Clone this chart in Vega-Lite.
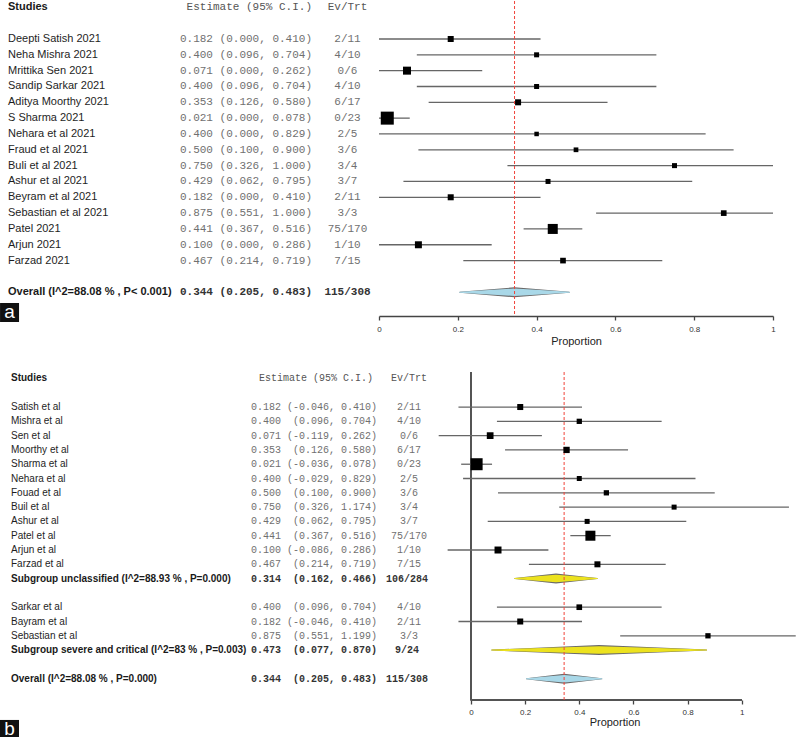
{
  "$schema": "https://vega.github.io/schema/vega-lite/v6.json",
  "padding": 0,
  "background": "white",
  "config": {"view": {"stroke": null}, "font": "Liberation Sans"},
  "datasets": {
    "a": [
      {"row": -2, "type": "header", "study": "Studies", "ci": "Estimate (95% C.I.)", "ev": "Ev/Trt"},
      {"row": 0, "type": "study", "study": "Deepti Satish 2021", "ci": "0.182 (0.000, 0.410)", "ev": "2/11", "est": 0.182, "lo": 0.0, "hi": 0.410, "weight": 5.2},
      {"row": 1, "type": "study", "study": "Neha Mishra 2021", "ci": "0.400 (0.096, 0.704)", "ev": "4/10", "est": 0.400, "lo": 0.096, "hi": 0.704, "weight": 3.6},
      {"row": 2, "type": "study", "study": "Mrittika Sen 2021", "ci": "0.071 (0.000, 0.262)", "ev": "0/6", "est": 0.071, "lo": 0.0, "hi": 0.262, "weight": 9.2},
      {"row": 3, "type": "study", "study": "Sandip Sarkar 2021", "ci": "0.400 (0.096, 0.704)", "ev": "4/10", "est": 0.400, "lo": 0.096, "hi": 0.704, "weight": 3.6},
      {"row": 4, "type": "study", "study": "Aditya Moorthy 2021", "ci": "0.353 (0.126, 0.580)", "ev": "6/17", "est": 0.353, "lo": 0.126, "hi": 0.580, "weight": 5.2},
      {"row": 5, "type": "study", "study": "S Sharma 2021", "ci": "0.021 (0.000, 0.078)", "ev": "0/23", "est": 0.021, "lo": 0.0, "hi": 0.078, "weight": 24.3},
      {"row": 6, "type": "study", "study": "Nehara et al 2021", "ci": "0.400 (0.000, 0.829)", "ev": "2/5", "est": 0.400, "lo": 0.0, "hi": 0.829, "weight": 2.9},
      {"row": 7, "type": "study", "study": "Fraud et al 2021", "ci": "0.500 (0.100, 0.900)", "ev": "3/6", "est": 0.500, "lo": 0.100, "hi": 0.900, "weight": 3.2},
      {"row": 8, "type": "study", "study": "Buli et al 2021", "ci": "0.750 (0.326, 1.000)", "ev": "3/4", "est": 0.750, "lo": 0.326, "hi": 1.0, "weight": 3.6},
      {"row": 9, "type": "study", "study": "Ashur et al 2021", "ci": "0.429 (0.062, 0.795)", "ev": "3/7", "est": 0.429, "lo": 0.062, "hi": 0.795, "weight": 3.6},
      {"row": 10, "type": "study", "study": "Beyram et al 2021", "ci": "0.182 (0.000, 0.410)", "ev": "2/11", "est": 0.182, "lo": 0.0, "hi": 0.410, "weight": 5.2},
      {"row": 11, "type": "study", "study": "Sebastian et al 2021", "ci": "0.875 (0.551, 1.000)", "ev": "3/3", "est": 0.875, "lo": 0.551, "hi": 1.0, "weight": 4.6},
      {"row": 12, "type": "study", "study": "Patel 2021", "ci": "0.441 (0.367, 0.516)", "ev": "75/170", "est": 0.441, "lo": 0.367, "hi": 0.516, "weight": 14.4},
      {"row": 13, "type": "study", "study": "Arjun 2021", "ci": "0.100 (0.000, 0.286)", "ev": "1/10", "est": 0.100, "lo": 0.0, "hi": 0.286, "weight": 7.0},
      {"row": 14, "type": "study", "study": "Farzad 2021", "ci": "0.467 (0.214, 0.719)", "ev": "7/15", "est": 0.467, "lo": 0.214, "hi": 0.719, "weight": 4.6},
      {"row": 16, "type": "overall", "study": "Overall (I^2=88.08 % , P< 0.001)", "ci": "0.344 (0.205, 0.483)", "ev": "115/308", "est": 0.344, "lo": 0.205, "hi": 0.483}
    ],
    "b": [
      {"row": -2, "type": "header", "study": "Studies", "ci": "Estimate (95% C.I.)", "ev": "Ev/Trt"},
      {"row": 0, "type": "study", "study": "Satish et al", "ci": "0.182 (-0.046, 0.410)", "ev": "2/11", "est": 0.182, "lo": -0.046, "hi": 0.410, "weight": 5.2},
      {"row": 1, "type": "study", "study": "Mishra et al", "ci": "0.400\u00a0\u00a0(0.096, 0.704)", "ev": "4/10", "est": 0.400, "lo": 0.096, "hi": 0.704, "weight": 4.0},
      {"row": 2, "type": "study", "study": "Sen et al", "ci": "0.071 (-0.119, 0.262)", "ev": "0/6", "est": 0.071, "lo": -0.119, "hi": 0.262, "weight": 6.5},
      {"row": 3, "type": "study", "study": "Moorthy et al", "ci": "0.353\u00a0\u00a0(0.126, 0.580)", "ev": "6/17", "est": 0.353, "lo": 0.126, "hi": 0.580, "weight": 5.7},
      {"row": 4, "type": "study", "study": "Sharma et al", "ci": "0.021 (-0.036, 0.078)", "ev": "0/23", "est": 0.021, "lo": -0.036, "hi": 0.078, "weight": 20.7},
      {"row": 5, "type": "study", "study": "Nehara et al", "ci": "0.400 (-0.029, 0.829)", "ev": "2/5", "est": 0.400, "lo": -0.029, "hi": 0.829, "weight": 3.6},
      {"row": 6, "type": "study", "study": "Fouad et al", "ci": "0.500\u00a0\u00a0(0.100, 0.900)", "ev": "3/6", "est": 0.500, "lo": 0.100, "hi": 0.900, "weight": 4.0},
      {"row": 7, "type": "study", "study": "Buil et al", "ci": "0.750\u00a0\u00a0(0.326, 1.174)", "ev": "3/4", "est": 0.750, "lo": 0.326, "hi": 1.174, "weight": 3.6},
      {"row": 8, "type": "study", "study": "Ashur et al", "ci": "0.429\u00a0\u00a0(0.062, 0.795)", "ev": "3/7", "est": 0.429, "lo": 0.062, "hi": 0.795, "weight": 3.6},
      {"row": 9, "type": "study", "study": "Patel et al", "ci": "0.441\u00a0\u00a0(0.367, 0.516)", "ev": "75/170", "est": 0.441, "lo": 0.367, "hi": 0.516, "weight": 14.4},
      {"row": 10, "type": "study", "study": "Arjun et al", "ci": "0.100 (-0.086, 0.286)", "ev": "1/10", "est": 0.100, "lo": -0.086, "hi": 0.286, "weight": 7.0},
      {"row": 11, "type": "study", "study": "Farzad et al", "ci": "0.467\u00a0\u00a0(0.214, 0.719)", "ev": "7/15", "est": 0.467, "lo": 0.214, "hi": 0.719, "weight": 5.2},
      {"row": 12, "type": "subgroup", "study": "Subgroup unclassified (I^2=88.93 % , P=0.000)", "ci": "0.314\u00a0\u00a0(0.162, 0.466)", "ev": "106/284", "est": 0.314, "lo": 0.162, "hi": 0.466},
      {"row": 14, "type": "study", "study": "Sarkar et al", "ci": "0.400\u00a0\u00a0(0.096, 0.704)", "ev": "4/10", "est": 0.400, "lo": 0.096, "hi": 0.704, "weight": 4.6},
      {"row": 15, "type": "study", "study": "Bayram et al", "ci": "0.182 (-0.046, 0.410)", "ev": "2/11", "est": 0.182, "lo": -0.046, "hi": 0.410, "weight": 5.2},
      {"row": 16, "type": "study", "study": "Sebastian et al", "ci": "0.875\u00a0\u00a0(0.551, 1.199)", "ev": "3/3", "est": 0.875, "lo": 0.551, "hi": 1.199, "weight": 4.0},
      {"row": 17, "type": "subgroup", "study": "Subgroup severe and critical (I^2=83 % , P=0.003)", "ci": "0.473\u00a0\u00a0(0.077, 0.870)", "ev": "9/24", "est": 0.473, "lo": 0.077, "hi": 0.870},
      {"row": 19, "type": "overall", "study": "Overall (I^2=88.08 % , P=0.000)", "ci": "0.344\u00a0\u00a0(0.205, 0.483)", "ev": "115/308", "est": 0.344, "lo": 0.205, "hi": 0.483}
    ]
  },
  "spacing": 25,
  "vconcat": [
    {
      "spacing": 0,
      "bounds": "flush",
      "hconcat": [
        {
          "width": 180, "height": 315,
          "data": {"name": "a"},
          "layer": [
            {
              "transform": [{"filter": "datum.type == 'study'"}],
              "mark": {"type": "text", "align": "left", "baseline": "middle", "dx": 8, "fontSize": 11, "font": "Liberation Sans", "color": "#1e1e1e"},
              "encoding": {
                "x": {"datum": 0, "type": "quantitative", "scale": {"domain": [0, 1], "nice": false, "zero": false}, "axis": null},
                "y": {"field": "row", "type": "quantitative", "scale": {"domain": [17.5, -2.4], "nice": false, "zero": false}, "axis": null},
                "text": {"field": "study"}
              }
            },
            {
              "transform": [{"filter": "datum.type != 'study'"}],
              "mark": {"type": "text", "align": "left", "baseline": "middle", "dx": 8, "fontSize": 11, "font": "Liberation Sans", "fontWeight": "bold", "color": "#1a1a1a"},
              "encoding": {
                "x": {"datum": 0, "type": "quantitative"},
                "y": {"field": "row", "type": "quantitative"},
                "text": {"field": "study"}
              }
            },
            {
              "data": {"values": [{"label": "a"}]},
              "mark": {"type": "point", "shape": "square", "filled": true, "color": "#111111", "opacity": 1, "size": 361, "strokeWidth": 0},
              "encoding": {
                "x": {"datum": 0.053, "type": "quantitative"},
                "y": {"datum": 17.28, "type": "quantitative"}
              }
            },
            {
              "data": {"values": [{"label": "a"}]},
              "mark": {"type": "text", "align": "center", "baseline": "alphabetic", "dy": 5.5, "fontSize": 19, "font": "Liberation Sans", "color": "white"},
              "encoding": {
                "x": {"datum": 0.053, "type": "quantitative"},
                "y": {"datum": 17.28, "type": "quantitative"},
                "text": {"field": "label"}
              }
            }
          ]
        },
        {
          "width": 132, "height": 315,
          "data": {"name": "a"},
          "layer": [
            {
              "transform": [{"filter": "datum.type == 'study'"}],
              "mark": {"type": "text", "align": "right", "baseline": "middle", "fontSize": 11, "font": "Liberation Mono", "color": "#707070"},
              "encoding": {
                "x": {"datum": 1, "type": "quantitative", "scale": {"domain": [0, 1], "nice": false, "zero": false}, "axis": null},
                "y": {"field": "row", "type": "quantitative", "scale": {"domain": [17.5, -2.4], "nice": false, "zero": false}, "axis": null},
                "text": {"field": "ci"}
              }
            },
            {
              "transform": [{"filter": "datum.type == 'header'"}],
              "mark": {"type": "text", "align": "right", "baseline": "middle", "fontSize": 11, "font": "Liberation Mono", "color": "#555555"},
              "encoding": {
                "x": {"datum": 1, "type": "quantitative"},
                "y": {"field": "row", "type": "quantitative"},
                "text": {"field": "ci"}
              }
            },
            {
              "transform": [{"filter": "datum.type == 'overall'"}],
              "mark": {"type": "text", "align": "right", "baseline": "middle", "fontSize": 11, "font": "Liberation Mono", "fontWeight": "bold", "color": "#333333"},
              "encoding": {
                "x": {"datum": 1, "type": "quantitative"},
                "y": {"field": "row", "type": "quantitative"},
                "text": {"field": "ci"}
              }
            }
          ]
        },
        {
          "width": 67, "height": 315,
          "data": {"name": "a"},
          "layer": [
            {
              "transform": [{"filter": "datum.type == 'study'"}],
              "mark": {"type": "text", "align": "center", "baseline": "middle", "dx": 2, "fontSize": 11, "font": "Liberation Mono", "color": "#707070"},
              "encoding": {
                "x": {"datum": 0.5, "type": "quantitative", "scale": {"domain": [0, 1], "nice": false, "zero": false}, "axis": null},
                "y": {"field": "row", "type": "quantitative", "scale": {"domain": [17.5, -2.4], "nice": false, "zero": false}, "axis": null},
                "text": {"field": "ev"}
              }
            },
            {
              "transform": [{"filter": "datum.type == 'header'"}],
              "mark": {"type": "text", "align": "center", "baseline": "middle", "dx": 2, "fontSize": 11, "font": "Liberation Mono", "color": "#555555"},
              "encoding": {
                "x": {"datum": 0.5, "type": "quantitative"},
                "y": {"field": "row", "type": "quantitative"},
                "text": {"field": "ev"}
              }
            },
            {
              "transform": [{"filter": "datum.type == 'overall'"}],
              "mark": {"type": "text", "align": "center", "baseline": "middle", "dx": 2, "fontSize": 11, "font": "Liberation Mono", "fontWeight": "bold", "color": "#333333"},
              "encoding": {
                "x": {"datum": 0.5, "type": "quantitative"},
                "y": {"field": "row", "type": "quantitative"},
                "text": {"field": "ev"}
              }
            }
          ]
        },
        {
          "width": 394, "height": 315,
          "data": {"name": "a"},
          "layer": [
            {
              "transform": [{"filter": "datum.type == 'study'"}],
              "mark": {"type": "rule", "color": "#666666", "strokeWidth": 1.3},
              "encoding": {
                "x": {"field": "lo", "type": "quantitative", "scale": {"domain": [0, 1], "nice": false, "zero": false},
                  "axis": {"values": [0, 0.2, 0.4, 0.6, 0.8, 1], "format": "~g", "title": "Proportion", "grid": false, "domainColor": "#444444", "domainWidth": 1.3, "tickColor": "#444444", "tickWidth": 1.3, "tickSize": 4, "labelFontSize": 8, "labelColor": "#333333", "labelPadding": 5, "labelFlush": false, "titleFontSize": 11, "titleFontWeight": "normal", "titleColor": "#222222", "titlePadding": 2}},
                "x2": {"field": "hi"},
                "y": {"field": "row", "type": "quantitative", "scale": {"domain": [17.5, -2.4], "nice": false, "zero": false}, "axis": null}
              }
            },
            {
              "transform": [{"filter": "datum.type != 'study' && datum.type != 'header'"}, {"fold": ["lo", "est", "hi"], "as": ["key", "value"]}],
              "mark": {"type": "trail", "color": "#6a6a6a"},
              "encoding": {
                "x": {"field": "value", "type": "quantitative"},
                "y": {"field": "row", "type": "quantitative"},
                "detail": {"field": "row"},
                "size": {"condition": {"test": "datum.key == 'est'", "value": 10}, "value": 0}
              }
            },
            {
              "transform": [{"filter": "datum.type != 'study' && datum.type != 'header'"}, {"fold": ["lo", "est", "hi"], "as": ["key", "value"]}],
              "mark": {"type": "trail", "color": "#a9d8e8"},
              "encoding": {
                "x": {"field": "value", "type": "quantitative"},
                "y": {"field": "row", "type": "quantitative"},
                "detail": {"field": "row"},
                "size": {"condition": {"test": "datum.key == 'est'", "value": 7.5}, "value": 0}
              }
            },
            {
              "transform": [{"filter": "datum.type == 'overall'"}],
              "mark": {"type": "rule", "color": "#f0443a", "strokeDash": [3, 2], "strokeWidth": 1},
              "encoding": {
                "x": {"field": "est", "type": "quantitative"}
              }
            },
            {
              "transform": [{"filter": "datum.type == 'study'"}],
              "mark": {"type": "point", "shape": "square", "filled": true, "color": "#000000", "opacity": 1, "strokeWidth": 0},
              "encoding": {
                "x": {"field": "est", "type": "quantitative"},
                "y": {"field": "row", "type": "quantitative"},
                "size": {"field": "weight", "type": "quantitative", "scale": {"domain": [0, 25], "range": [0, 174]}, "legend": null}
              }
            }
          ]
        }
      ]
    },
    {
      "spacing": 0,
      "bounds": "flush",
      "hconcat": [
        {
          "width": 250, "height": 328,
          "data": {"name": "b"},
          "layer": [
            {
              "transform": [{"filter": "datum.type == 'study'"}],
              "mark": {"type": "text", "align": "left", "baseline": "middle", "dx": 11, "fontSize": 10, "font": "Liberation Sans", "color": "#1e1e1e"},
              "encoding": {
                "x": {"datum": 0, "type": "quantitative", "scale": {"domain": [0, 1], "nice": false, "zero": false}, "axis": null},
                "y": {"field": "row", "type": "quantitative", "scale": {"domain": [20.49, -2.45], "nice": false, "zero": false}, "axis": null},
                "text": {"field": "study"}
              }
            },
            {
              "transform": [{"filter": "datum.type != 'study'"}],
              "mark": {"type": "text", "align": "left", "baseline": "middle", "dx": 11, "fontSize": 10, "font": "Liberation Sans", "fontWeight": "bold", "color": "#1a1a1a"},
              "encoding": {
                "x": {"datum": 0, "type": "quantitative"},
                "y": {"field": "row", "type": "quantitative"},
                "text": {"field": "study"}
              }
            },
            {
              "data": {"values": [{"label": "b"}]},
              "mark": {"type": "point", "shape": "square", "filled": true, "color": "#111111", "opacity": 1, "size": 361, "strokeWidth": 0},
              "encoding": {
                "x": {"datum": 0.038, "type": "quantitative"},
                "y": {"datum": 22.55, "type": "quantitative"}
              }
            },
            {
              "data": {"values": [{"label": "b"}]},
              "mark": {"type": "text", "align": "center", "baseline": "alphabetic", "dy": 5.5, "fontSize": 19, "font": "Liberation Sans", "color": "white"},
              "encoding": {
                "x": {"datum": 0.038, "type": "quantitative"},
                "y": {"datum": 22.55, "type": "quantitative"},
                "text": {"field": "label"}
              }
            }
          ]
        },
        {
          "width": 127, "height": 328,
          "data": {"name": "b"},
          "layer": [
            {
              "transform": [{"filter": "datum.type == 'study'"}],
              "mark": {"type": "text", "align": "right", "baseline": "middle", "fontSize": 10, "font": "Liberation Mono", "color": "#707070"},
              "encoding": {
                "x": {"datum": 1, "type": "quantitative", "scale": {"domain": [0, 1], "nice": false, "zero": false}, "axis": null},
                "y": {"field": "row", "type": "quantitative", "scale": {"domain": [20.49, -2.45], "nice": false, "zero": false}, "axis": null},
                "text": {"field": "ci"}
              }
            },
            {
              "transform": [{"filter": "datum.type == 'header'"}],
              "mark": {"type": "text", "align": "right", "baseline": "middle", "dx": -4, "fontSize": 10, "font": "Liberation Mono", "color": "#555555"},
              "encoding": {
                "x": {"datum": 1, "type": "quantitative"},
                "y": {"field": "row", "type": "quantitative"},
                "text": {"field": "ci"}
              }
            },
            {
              "transform": [{"filter": "datum.type == 'overall' || datum.type == 'subgroup'"}],
              "mark": {"type": "text", "align": "right", "baseline": "middle", "fontSize": 10, "font": "Liberation Mono", "fontWeight": "bold", "color": "#333333"},
              "encoding": {
                "x": {"datum": 1, "type": "quantitative"},
                "y": {"field": "row", "type": "quantitative"},
                "text": {"field": "ci"}
              }
            }
          ]
        },
        {
          "width": 56, "height": 328,
          "data": {"name": "b"},
          "layer": [
            {
              "transform": [{"filter": "datum.type == 'study'"}],
              "mark": {"type": "text", "align": "center", "baseline": "middle", "dx": 4, "fontSize": 10, "font": "Liberation Mono", "color": "#707070"},
              "encoding": {
                "x": {"datum": 0.5, "type": "quantitative", "scale": {"domain": [0, 1], "nice": false, "zero": false}, "axis": null},
                "y": {"field": "row", "type": "quantitative", "scale": {"domain": [20.49, -2.45], "nice": false, "zero": false}, "axis": null},
                "text": {"field": "ev"}
              }
            },
            {
              "transform": [{"filter": "datum.type == 'header'"}],
              "mark": {"type": "text", "align": "center", "baseline": "middle", "dx": 4, "fontSize": 10, "font": "Liberation Mono", "color": "#555555"},
              "encoding": {
                "x": {"datum": 0.5, "type": "quantitative"},
                "y": {"field": "row", "type": "quantitative"},
                "text": {"field": "ev"}
              }
            },
            {
              "transform": [{"filter": "datum.type == 'overall' || datum.type == 'subgroup'"}],
              "mark": {"type": "text", "align": "center", "baseline": "middle", "dx": 2, "fontSize": 10, "font": "Liberation Mono", "fontWeight": "bold", "color": "#333333"},
              "encoding": {
                "x": {"datum": 0.5, "type": "quantitative"},
                "y": {"field": "row", "type": "quantitative"},
                "text": {"field": "ev"}
              }
            }
          ]
        },
        {
          "width": 363, "height": 328,
          "data": {"name": "b"},
          "layer": [
            {
              "mark": {"type": "rule", "color": "#555555", "strokeWidth": 1.5},
              "encoding": {
                "x": {"datum": 0, "type": "quantitative", "scale": {"domain": [-0.14, 1.2], "nice": false, "zero": false},
                  "axis": {"values": [0, 0.2, 0.4, 0.6, 0.8, 1], "format": "~g", "title": "Proportion", "grid": false, "domain": false, "tickColor": "#444444", "tickWidth": 1.3, "tickSize": 4, "labelFontSize": 8, "labelColor": "#333333", "labelPadding": 4, "labelFlush": false, "titleFontSize": 11, "titleFontWeight": "normal", "titleColor": "#222222", "titlePadding": 0}}
              }
            },
            {
              "mark": {"type": "rule", "color": "#555555", "strokeWidth": 1.5},
              "encoding": {
                "x": {"datum": 0, "type": "quantitative"},
                "x2": {"datum": 1},
                "y": {"datum": 20.49, "type": "quantitative", "scale": {"domain": [20.49, -2.45], "nice": false, "zero": false}, "axis": null}
              }
            },
            {
              "transform": [{"filter": "datum.type == 'study'"}],
              "mark": {"type": "rule", "color": "#666666", "strokeWidth": 1.3},
              "encoding": {
                "x": {"field": "lo", "type": "quantitative"},
                "x2": {"field": "hi"},
                "y": {"field": "row", "type": "quantitative"}
              }
            },
            {
              "transform": [{"filter": "datum.type == 'subgroup' || datum.type == 'overall'"}, {"fold": ["lo", "est", "hi"], "as": ["key", "value"]}],
              "mark": {"type": "trail", "color": "#6a6a6a"},
              "encoding": {
                "x": {"field": "value", "type": "quantitative"},
                "y": {"field": "row", "type": "quantitative"},
                "detail": {"field": "row"},
                "size": {"condition": {"test": "datum.key == 'est'", "value": 10}, "value": 0}
              }
            },
            {
              "transform": [{"filter": "datum.type == 'subgroup'"}, {"fold": ["lo", "est", "hi"], "as": ["key", "value"]}],
              "mark": {"type": "trail", "color": "#ece21e"},
              "encoding": {
                "x": {"field": "value", "type": "quantitative"},
                "y": {"field": "row", "type": "quantitative"},
                "detail": {"field": "row"},
                "size": {"condition": {"test": "datum.key == 'est'", "value": 7.5}, "value": 0}
              }
            },
            {
              "transform": [{"filter": "datum.type == 'overall'"}, {"fold": ["lo", "est", "hi"], "as": ["key", "value"]}],
              "mark": {"type": "trail", "color": "#a9d8e8"},
              "encoding": {
                "x": {"field": "value", "type": "quantitative"},
                "y": {"field": "row", "type": "quantitative"},
                "detail": {"field": "row"},
                "size": {"condition": {"test": "datum.key == 'est'", "value": 7.5}, "value": 0}
              }
            },
            {
              "transform": [{"filter": "datum.type == 'overall'"}],
              "mark": {"type": "rule", "color": "#f0443a", "strokeDash": [3, 2], "strokeWidth": 1},
              "encoding": {
                "x": {"field": "est", "type": "quantitative"}
              }
            },
            {
              "transform": [{"filter": "datum.type == 'study'"}],
              "mark": {"type": "point", "shape": "square", "filled": true, "color": "#000000", "opacity": 1, "strokeWidth": 0},
              "encoding": {
                "x": {"field": "est", "type": "quantitative"},
                "y": {"field": "row", "type": "quantitative"},
                "size": {"field": "weight", "type": "quantitative", "scale": {"domain": [0, 25], "range": [0, 174]}, "legend": null}
              }
            }
          ]
        }
      ]
    }
  ]
}
